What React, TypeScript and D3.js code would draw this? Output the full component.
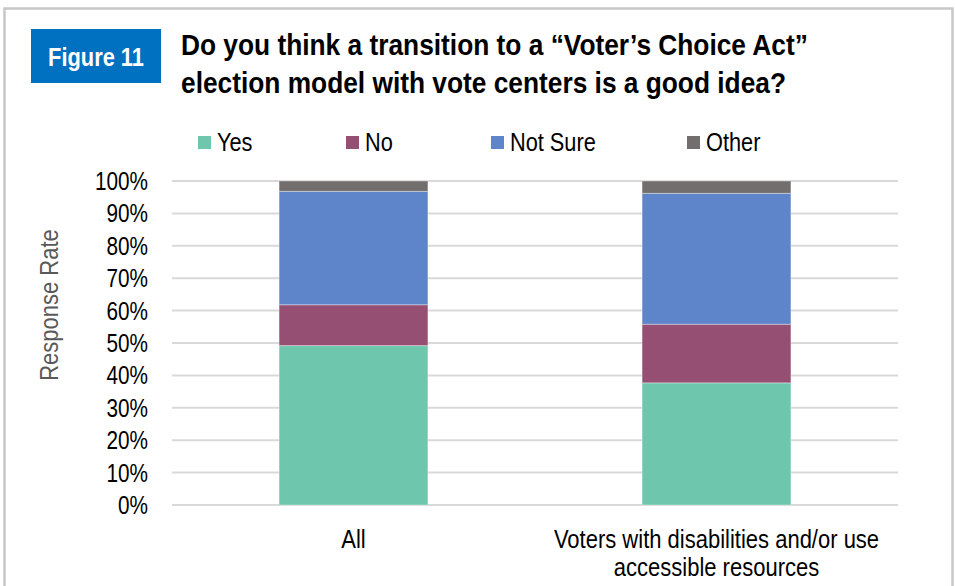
import React from "react";
import * as d3 from "d3";

const categories = ["All", "Voters with disabilities and/or use accessible resources"];
const categoryLines = [["All"], ["Voters with disabilities and/or use", "accessible resources"]];
const seriesNames = ["Yes", "No", "Not Sure", "Other"];
const yesValues = [49.2, 37.7];
const noValues = [12.6, 18.1];
const notSureValues = [35.0, 40.4];
const otherValues = [3.2, 3.8];
const yTicks = [0, 10, 20, 30, 40, 50, 60, 70, 80, 90, 100];
const colors = ["#6EC7AD", "#954F72", "#5E84CA", "#736E6E"];

const W = 955;
const H = 586;
const FONT = "'Liberation Sans', Arial, sans-serif";

function NText(props: {
  x: number;
  y: number;
  sx: number;
  size: number;
  anchor?: string;
  bold?: boolean;
  fill?: string;
  rotate?: number;
  children: React.ReactNode;
}) {
  const { x, y, sx, size, anchor = "start", bold = false, fill = "#000", rotate = 0, children } = props;
  return (
    <g transform={`translate(${x},${y}) rotate(${rotate}) scale(${sx},1)`}>
      <text
        x={0}
        y={0}
        textAnchor={anchor}
        fontFamily={FONT}
        fontSize={size}
        fontWeight={bold ? "bold" : "normal"}
        fill={fill}
      >
        {children}
      </text>
    </g>
  );
}

export default function App() {
  const x = d3.scaleBand<string>().domain(categories).range([172, 898]).paddingInner(0.59).paddingOuter(0.295);
  const y = d3.scaleLinear().domain([0, 100]).range([505, 181]);

  const table = categories.map((c, i) => ({
    cat: c,
    Yes: yesValues[i],
    No: noValues[i],
    "Not Sure": notSureValues[i],
    Other: otherValues[i],
  }));
  const stacked = d3.stack<any>().keys(seriesNames)(table);

  const legendX = [198, 346, 491, 687];

  return (
    <svg width={W} height={H} style={{ position: "absolute", left: 0, top: 0, background: "#fff" }}>
      <rect x={0} y={0} width={W} height={H} fill="#fff" />
      {/* frame */}
      <path d={`M4.5,${H} V8.5 H952.5 V${H}`} fill="none" stroke="#C8C8C8" strokeWidth={2.5} />
      {/* figure badge */}
      <rect x={31} y={29} width={130} height={54} fill="#0070C0" />
      <NText x={96} y={66} sx={0.84} size={26} anchor="middle" bold fill="#fff">
        Figure 11
      </NText>
      <NText x={181} y={55} sx={0.877} size={30} bold>
        Do you think a transition to a “Voter’s Choice Act”
      </NText>
      <NText x={181} y={93} sx={0.877} size={30} bold>
        election model with vote centers is a good idea?
      </NText>

      {/* legend */}
      {seriesNames.map((s, i) => (
        <g key={s}>
          <rect x={legendX[i]} y={136} width={13} height={13} fill={colors[i]} />
          <NText x={legendX[i] + 19} y={151} sx={0.87} size={25}>
            {s}
          </NText>
        </g>
      ))}

      {/* gridlines */}
      {yTicks.map((t) => (
        <line key={t} x1={172} x2={898} y1={y(t)} y2={y(t)} stroke="#D9D9D9" strokeWidth={2} />
      ))}
      {/* y tick labels */}
      {yTicks.map((t) => (
        <NText key={t} x={148} y={y(t) + 9} sx={0.83} size={25} anchor="end">
          {t}%
        </NText>
      ))}
      <NText x={58} y={305} sx={0.846} size={26} anchor="middle" rotate={-90} fill="#595959">
        Response Rate
      </NText>

      {/* bars */}
      {stacked.map((layer, si) => (
        <g key={layer.key} fill={colors[si]}>
          {layer.map((d, ci) => (
            <rect
              key={ci}
              x={x(categories[ci])}
              y={y(d[1])}
              width={x.bandwidth()}
              height={y(d[0]) - y(d[1])}
              stroke="#ffffff"
              strokeOpacity={0.35}
              strokeWidth={1}
            />
          ))}
        </g>
      ))}

      {/* category labels */}
      {categories.map((c, i) => (
        <g key={c}>
          {categoryLines[i].map((line, li) => (
            <NText
              key={li}
              x={(x(c) as number) + x.bandwidth() / 2}
              y={548 + li * 28}
              sx={0.846}
              size={26}
              anchor="middle"
            >
              {line}
            </NText>
          ))}
        </g>
      ))}
    </svg>
  );
}
